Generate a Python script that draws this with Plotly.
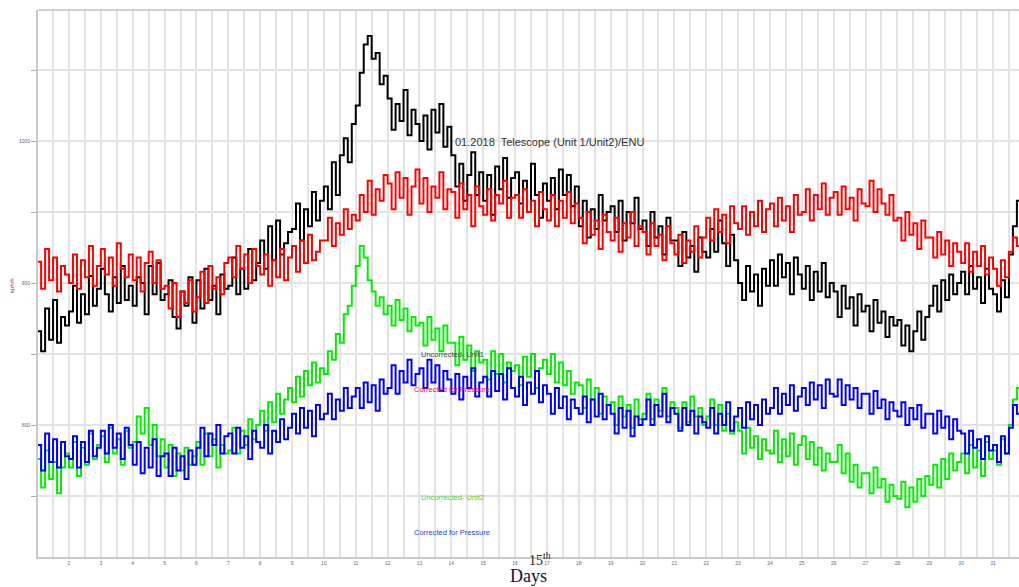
import numpy as np
import plotly.graph_objects as go

# 3-hourly readings (8 per day) starting day 1
unit1_uncorrected = [
    866, 852, 882, 860, 888, 858, 876, 870,
    880, 898, 872, 892, 878, 905, 884, 896,
    910, 892, 880, 904, 886, 912, 888, 898,
    884, 904, 900, 878, 912, 892, 914, 888,
    892, 902, 876, 868, 894, 884, 904, 872,
    902, 882, 910, 888, 898, 878, 906, 896,
    898, 918, 892, 910, 896, 924, 902, 914,
    930, 910, 940, 916, 944, 920, 928, 936,
    938, 956, 930, 952, 940, 964, 944, 958,
    968, 952, 985, 962, 990, 1002, 985, 1012,
    1025, 1048, 1068, 1074, 1058, 1062, 1040, 1046,
    1030, 1008, 1026, 1014, 1036, 1004, 1022, 1012,
    1000, 1018, 994, 1022, 1006, 1026, 996, 1010,
    990, 968, 984, 958, 976, 992, 962, 978,
    958, 976, 948, 982, 966, 988, 960, 974,
    978, 956, 972, 950, 984, 962, 946, 970,
    958, 974, 952, 980, 962, 976, 954, 968,
    940, 958, 932, 952, 938, 962, 944, 950,
    954, 936, 958, 930, 950, 942, 960, 938,
    944, 926, 950, 932, 940, 920, 946, 930,
    930, 912, 936, 918, 926, 908, 932, 922,
    918, 938, 922, 944, 928, 912, 934, 916,
    900, 888, 912, 894, 906, 884, 910, 898,
    916, 898, 920, 904, 914, 892, 918, 906,
    896, 912, 888, 908, 894, 914, 890, 900,
    894, 876, 898, 882, 890, 870, 892, 880,
    884, 866, 888, 872, 880, 862, 876, 870,
    874, 856, 870, 852, 866, 880, 860, 876,
    884, 898, 880, 902, 888, 906, 892, 900,
    908, 892, 912, 896, 904, 886, 910, 896,
    892, 880, 902, 890, 920, 940, 958, 945,
]
unit1_corrected = [
    915, 896, 924, 902, 918, 894, 912, 906,
    900, 920, 896, 916, 904, 926, 898, 912,
    924, 906, 918, 898, 928, 910, 904, 920,
    902, 918, 894, 914, 922, 900, 916, 896,
    898, 882, 900, 876, 894, 886, 902, 880,
    890, 908, 886, 912, 896, 904, 892, 914,
    918, 904, 926, 910, 920, 900, 924, 912,
    906, 920, 898, 916, 904, 924, 902, 918,
    926, 908, 930, 914, 934, 916, 922, 930,
    930, 946, 926, 942, 934, 952, 938, 948,
    944, 962, 950, 972, 948, 966, 958, 976,
    970, 952, 978, 960, 974, 948, 968, 980,
    956, 974, 950, 968, 960, 978, 952, 966,
    964, 946, 970, 952, 962, 940, 968, 954,
    948, 966, 944, 962, 956, 972, 946, 960,
    962, 946, 966, 950, 958, 940, 964, 952,
    944, 962, 940, 958, 946, 964, 942, 956,
    946, 928, 950, 934, 944, 924, 948, 936,
    930, 946, 922, 942, 932, 950, 926, 940,
    936, 920, 942, 926, 934, 916, 940, 928,
    920, 934, 914, 930, 922, 940, 918, 932,
    946, 930, 952, 936, 948, 928, 954, 942,
    938, 954, 934, 950, 940, 958, 936, 952,
    956, 940, 960, 944, 954, 936, 962, 948,
    950, 966, 944, 962, 952, 970, 948, 960,
    964, 948, 968, 952, 960, 944, 966, 956,
    954, 972, 950, 966, 956, 948, 962, 944,
    946, 930, 950, 934, 942, 924, 944, 932,
    932, 918, 936, 920, 930, 912, 928, 922,
    914, 928, 908, 922, 912, 926, 906, 918,
    910, 898, 916, 904, 922, 932, 926, 938,
]
unit2_uncorrected = [
    776, 756, 782, 762, 774, 752, 770, 780,
    770, 788, 764, 784, 772, 794, 776, 786,
    792, 774, 798, 780, 790, 772, 796, 784,
    788, 806, 794, 812, 786, 800, 778, 790,
    770, 786, 764, 780, 768, 784, 772, 778,
    788, 772, 794, 778, 790, 770, 786, 780,
    782, 798, 780, 796, 786, 804, 790, 800,
    810, 796, 816, 802, 822, 808, 818, 826,
    816, 834, 820, 838, 828, 844, 830, 840,
    836, 852, 846, 864, 858, 878, 884, 898,
    912, 926, 918, 902, 894, 884, 890, 878,
    884, 870, 888, 874, 882, 866, 876, 870,
    872, 856, 876, 860, 868, 852, 870, 858,
    858, 842, 862, 846, 856, 838, 852, 844,
    846, 832, 852, 836, 850, 830, 844, 838,
    842, 828, 848, 834, 850, 826, 840, 846,
    836, 850, 830, 844, 828, 838, 822, 830,
    828, 812, 832, 818, 826, 808, 820, 814,
    816, 800, 820, 806, 814, 798, 818, 804,
    808, 822, 804, 818, 810, 826, 806, 816,
    812, 798, 816, 802, 820, 806, 812, 800,
    806, 818, 800, 814, 796, 808, 794, 802,
    796, 780, 798, 784, 792, 776, 790, 782,
    780, 796, 774, 790, 778, 794, 772, 786,
    792, 776, 788, 772, 784, 768, 780, 774,
    774, 786, 766, 780, 760, 772, 756, 766,
    766, 752, 770, 756, 762, 746, 758, 750,
    748, 760, 742, 756, 746, 762, 750, 764,
    758, 772, 756, 776, 762, 780, 768, 774,
    780, 766, 786, 770, 782, 764, 788, 776,
    782, 772, 790, 780, 800, 818, 826, 816,
]
unit2_corrected = [
    786, 768, 794, 774, 790, 770, 788, 778,
    776, 792, 770, 788, 774, 796, 778, 784,
    796, 780, 800, 784, 794, 776, 798, 786,
    772, 788, 766, 784, 770, 790, 764, 778,
    780, 764, 784, 768, 778, 762, 782, 772,
    784, 798, 778, 794, 786, 800, 780, 792,
    794, 780, 798, 784, 792, 776, 796, 788,
    784, 800, 780, 796, 788, 804, 790, 798,
    808, 794, 812, 798, 810, 792, 814, 804,
    808, 822, 804, 818, 810, 826, 812, 820,
    826, 812, 830, 816, 828, 810, 832, 822,
    826, 842, 822, 838, 830, 846, 828, 836,
    840, 826, 846, 830, 842, 824, 838, 832,
    822, 836, 818, 834, 826, 840, 820, 830,
    834, 820, 838, 824, 836, 818, 840, 826,
    820, 834, 814, 830, 822, 838, 816, 828,
    822, 808, 826, 812, 820, 804, 818, 812,
    808, 820, 802, 818, 806, 822, 804, 814,
    808, 794, 812, 798, 810, 792, 806, 800,
    804, 818, 800, 814, 806, 822, 802, 812,
    808, 796, 812, 800, 810, 794, 806, 802,
    798, 812, 794, 808, 800, 816, 796, 806,
    812, 798, 816, 804, 814, 800, 818, 808,
    812, 826, 808, 822, 814, 828, 810, 820,
    826, 814, 830, 818, 828, 812, 832, 822,
    820, 832, 814, 828, 818, 826, 812, 822,
    822, 808, 824, 812, 818, 804, 816, 810,
    806, 816, 800, 812, 804, 814, 798, 808,
    808, 794, 810, 798, 806, 790, 804, 796,
    794, 780, 796, 784, 790, 776, 792, 782,
    786, 774, 792, 780, 798, 814, 808, 816,
]
day_ticks = list(range(2, 32))
y_grid = [750, 800, 850, 900, 950, 1000, 1050]
y_labels = {800: "800", 900: "900", 1000: "1000"}

days = 1 + np.arange(len(unit1_uncorrected)) / 8.0

W, H = 1019, 587
L, R, T, B = 38, 1019, 10, 557

fig = go.Figure()
for vals, col in [(unit1_uncorrected, "#000000"), (unit1_corrected, "#ff0000"),
                  (unit2_uncorrected, "#00ee00"), (unit2_corrected, "#0000ff")]:
    fig.add_trace(go.Scatter(x=days, y=vals, mode="lines", line_shape="hv",
                             line=dict(color=col, width=2), showlegend=False))

def px(xp, yp):
    return (xp - L) / (R - L), (B - yp) / (B - T)

def note(text, xp, yp, size, color, family="Arial", **kw):
    x, y = px(xp, yp)
    fig.add_annotation(text=text, x=x, y=y, xref="paper", yref="paper",
                       xanchor="center", yanchor="middle",
                       showarrow=False, font=dict(size=size, color=color, family=family), **kw)

note("01.2018  Telescope (Unit 1/Unit2)/ENU", 549, 142, 11, "#333333")
note("Uncorrected- Unit1", 452, 354, 7.5, "#444444")
note("Corrected for Pressure", 452, 390, 7.5, "#ff0033")
note("Uncorrected- Unit2", 452, 497, 7.5, "#33dd33")
note("Corrected for Pressure", 452, 532, 7.5, "#3333ff")
note("15<sup>th</sup>", 540, 559, 14, "#222222", family="Liberation Serif")
note("Days", 528, 576, 18, "#111133", family="Liberation Serif")
note("kph/h", 12, 286, 6, "#993333", textangle=-90)

half_ticks = [d / 2 for d in range(2, 64)]
fig.update_xaxes(range=[1.027, 31.816], tickvals=half_ticks,
                 ticktext=[str(int(v)) if v == int(v) and int(v) in day_ticks else "" for v in half_ticks],
                 showgrid=True, gridcolor="#e3e3e3", gridwidth=1.6,
                 tickfont=dict(size=5, color="#666677", family="Arial"),
                 showline=True, linecolor="#c8c8c8", linewidth=2, ticks="", zeroline=False)
fig.update_yaxes(range=[707.04, 1092.25], tickvals=y_grid,
                 ticktext=[y_labels.get(v, "") for v in y_grid],
                 showgrid=True, gridcolor="#e3e3e3", gridwidth=1.6,
                 tickfont=dict(size=5, color="#666688", family="Arial"),
                 showline=True, linecolor="#c8c8c8", linewidth=2, mirror=False,
                 ticks="outside", ticklen=5, tickcolor="#aaaaaa", zeroline=False)
fig.update_layout(width=W, height=H, margin=dict(l=L, r=W - R, t=T, b=H - B),
                  plot_bgcolor="white", paper_bgcolor="white",
                  shapes=[dict(type="line", xref="paper", yref="paper", x0=0, x1=1, y0=1, y1=1,
                               line=dict(color="#d0d0d0", width=2))])
fig.write_html("out.html")
